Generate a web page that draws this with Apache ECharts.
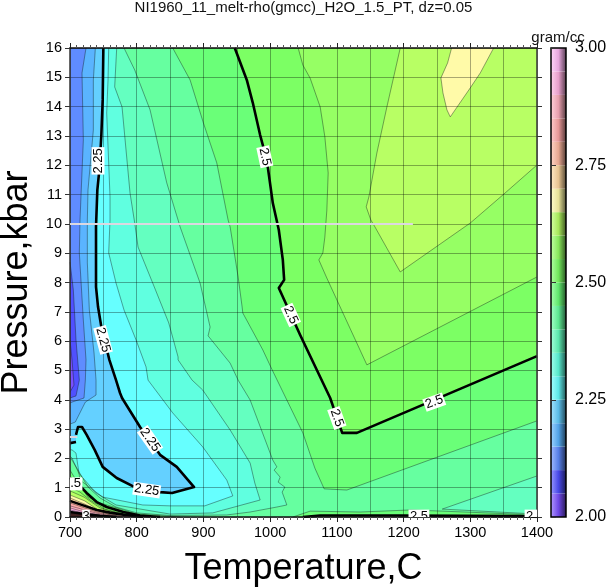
<!DOCTYPE html>
<html><head><meta charset="utf-8">
<style>html,body{margin:0;padding:0;background:#fff}#c{width:608px;height:587px}</style>
<script src="https://cdn.jsdelivr.net/npm/echarts@6/dist/echarts.min.js"></script>
</head><body><div id="c"></div>
<script>
// Contours: [temperature C, pressure kbar]
const c205=[[700,6.04],[703,5.36],[706,4.5],[700,4.26]];
const c210=[[700,8.7],[705,7.75],[709,6.04],[714,4.67],[709,4.13],[700,4.06]];
const c215=[[724,16],[718,15.15],[720,12.86],[715,10.13],[714,9.01],[720,6.72],[724,5.36],[723,4.67],[721,4.06],[703,3.92],[700,3.89]];
const c220=[[738,16],[735,14.91],[735,13.2],[727,11.16],[726,10.13],[726,8.67],[729,7.06],[736,5.6],[739,4.67],[739,4.16],[723,3.92],[708,3.24],[700,3.17]];
const c225=[[750,16],[749,14.23],[747,13.03],[744,11.84],[741,11.16],[739,9.9],[739,7.85],[742,7.17],[747,6.48],[759,5.36],[769,4.67],[775,4.23],[778,4.06],[805,3.07],[835,2.12],[860,1.71],[877,1.26],[886,1.02],[853,0.82],[835,0.85],[797,1.02],[770,1.33],[749,1.71],[737,2.29],[725,2.8],[718,3.07],[712,3.07],[709,2.8]];
const c225tail=[[709,2.56],[700,2.52]];
const c230=[[758,16],[757,14.91],[755,13.78],[760,10.92],[760,10.13],[758,9.01],[769,7.98],[781,7.06],[799,6.04],[814,5.12],[817,4.67],[854,3.55],[899,2.39],[935,1.26],[944,0.72],[902,0.38],[850,0.38],[809,0.41],[749,0.68],[715,1.26],[709,2.18],[703,2.29],[700,2.29]];
const c235=[[770,16],[767,14.67],[778,13.99],[790,11.05],[797,10.03],[802,9.21],[824,7.98],[848,6.62],[862,5.46],[862,5.36],[883,4.67],[899,4.33],[940,2.97],[970,1.84],[977,1.16],[985,0.58],[914,0.14],[850,0.1],[769,0.41],[739,0.82],[713,1.5],[703,2.01],[700,2.08]];
const c240=[[781,16],[797,15.25],[820,13.89],[845,11.4],[862,10.13],[865,9.9],[895,7.98],[910,6.48],[907,6.18],[940,5.25],[952,4.67],[970,3.99],[1004,1.94],[1010,1.71],[1006,1.6],[1015,1.36],[1012,1.19],[1022,1.02],[1018,0.85],[1025,0.41],[1010,0.34],[970,0.17],[935,0.07],[850,0.05],[800,0.14],[769,0.34],[745,0.65],[727,1.02],[712,1.6],[703,1.94],[700,2.01]];
const c240tongue=[[1400,0.1],[1258,0.27],[1400,1.4]];
const c245=[[854,16],[880,14.91],[900,13.44],[920,12.08],[937,10.13],[940,9.9],[952,8.19],[958,7.17],[959,6.96],[985,5.87],[989,5.7],[1003,5.02],[1049,2.87],[1067,1.67],[1081,0.96],[1115,0.92],[1400,3.28]];
const c245strip=[[1034,0],[1060,0.2],[1135,0.17],[1210,0.24],[1258,0.2],[1400,0.07]];
const c245wedge=[[700,1.6],[709,1.26],[727,0.68],[745,0.48],[770,0.31],[800,0.1],[835,0.05],[865,0]];
const c250=[[947,16],[965,14.91],[974,14.13],[985,13.03],[995,12.18],[1004,10.71],[1013,9.79],[1019,8.77],[1021,8.09],[1013,7.81],[1045,6.21],[1090,4.06],[1108,2.87],[1130,2.87],[1400,5.49]];
const c250strip=[[1049,0],[1075,0.05],[1195,0.05],[1375,0.03],[1400,0]];
const c250wedge=[[700,1.33],[712,1.13],[725,0.82],[740,0.51],[755,0.34],[780,0.17],[805,0.05],[835,0]];
const c255=[[1042,16],[1049,15.42],[1060,14.97],[1075,13.99],[1082,12.97],[1087,11.74],[1085,10.47],[1082,9.55],[1079,9.01],[1073,8.77],[1085,8.15],[1145,5.19],[1400,8.19]];
const c255wedge=[[700,1.02],[715,0.85],[730,0.58],[752,0.27],[782,0.1],[808,0]];
const c260=[[1195,16],[1175,13.99],[1160,12.42],[1148,10.92],[1144,10.58],[1151,10.13],[1157,9.9],[1195,8.36],[1300,10.03],[1349,10.99],[1400,12.01]];
const c260wedge=[[700,0.89],[721,0.68],[745,0.31],[775,0.1],[797,0]];
const c265=[[1272,16],[1266,15.49],[1256,14.98],[1259,14.47],[1265,13.89],[1270,13.65],[1300,14.64],[1315,15.15],[1335,16]];
const c265wedge=[[700,0.75],[722,0.55],[740,0.27],[767,0.07],[785,0]];
const c270wedge=[[700,0.65],[722,0.44],[740,0.24],[763,0.05],[778,0]];
const c275wedge=[[700,0.55],[722,0.38],[740,0.24],[760,0.15],[780,0.08],[810,0]];
const c280wedge=[[700,0.48],[722,0.31],[740,0.17],[755,0.1],[775,0.03],[790,0]];
const c285wedge=[[700,0.38],[722,0.24],[740,0.13],[760,0.05],[775,0]];
const c290wedge=[[700,0.31],[722,0.17],[738,0.1],[765,0]];
const c295wedge=[[700,0.24],[722,0.13],[745,0.05],[760,0]];
const c300wedge=[[700,0.17],[722,0.1],[745,0.04],[770,0]];
const dataGap=[[[700,10],[1214,10]],[[700,2.73],[711,2.73]]];
const labelTexts=['2.25','2.25','2.25','2.25','2.5','2.5','2.5','2.5','2.5','2.5','2.5','3'];
const labelPlaces=[[742,12.15],[749.5,6.04],[820,2.63],[815,0.92],[992,12.29],[1031,6.89],[1100,3.38],[1246,3.92],[1223,0.03],[1397,0.03],[703,1.13],[724,0.03]];
const labelAngles=[90,-75,-55,-8,-78,-65,-70,20,0,0,0,0];
const levels=[2,2.05,2.1,2.15,2.2,2.25,2.3,2.35,2.4,2.45,2.5,2.55,2.6,2.65,2.7,2.75,2.8,2.85,2.9,2.95];
const bandColors=['#7a50ff','#5050ff','#5f8cff','#5ab4ff','#64d0ff','#66ffff','#60ffe0','#64ffc0','#66ffa0','#6aff78','#7cff64','#96ff64','#b8ff64','#fffaa8','#ffd8a0','#ffb8a0','#ffa8a8','#ffb0c0','#ffb0e0','#ffb8f4'];
const beyondColor='#402020';
const xTicks=[700,1400], yTicks=[0,16], barTicks=[2,3];

const lb=[[700,0],[1400,0],[1400,16]], tr=[[1400,16]];
const layers=[
 {c:bandColors[0],p:[[700,0],[1400,0],[1400,16],[700,16]]},
 {c:bandColors[1],p:c205.concat(lb,[[700,16]])},
 {c:bandColors[2],p:c210.concat(lb,[[700,16]])},
 {c:bandColors[3],p:c215.concat(lb)},
 {c:bandColors[4],p:c220.concat(lb)},
 {c:bandColors[5],p:c225.concat(c225tail,lb)},
 {c:bandColors[6],p:c230.concat(lb)},
 {c:bandColors[7],p:c235.concat(lb)},
 {c:bandColors[8],p:c240.concat([[700,0],[1400,0]],c240tongue,tr)},
 {c:bandColors[9],p:c245.concat(tr)},
 {c:bandColors[9],p:c245strip.concat([[1400,0]])},
 {c:bandColors[9],p:c245wedge.concat([[700,0]])},
 {c:bandColors[10],p:c250.concat(tr)},
 {c:bandColors[10],p:c250strip},
 {c:bandColors[10],p:c250wedge.concat([[700,0]])},
 {c:bandColors[11],p:c255.concat(tr)},
 {c:bandColors[11],p:c255wedge.concat([[700,0]])},
 {c:bandColors[12],p:c260.concat(tr)},
 {c:bandColors[12],p:c260wedge.concat([[700,0]])},
 {c:bandColors[13],p:c265},
 {c:bandColors[13],p:c265wedge.concat([[700,0]])},
 {c:bandColors[14],p:c270wedge.concat([[700,0]])},
 {c:bandColors[15],p:c275wedge.concat([[700,0]])},
 {c:bandColors[16],p:c280wedge.concat([[700,0]])},
 {c:bandColors[17],p:c285wedge.concat([[700,0]])},
 {c:bandColors[18],p:c290wedge.concat([[700,0]])},
 {c:bandColors[19],p:c295wedge.concat([[700,0]])},
 {c:beyondColor,p:c300wedge.concat([[700,0]])}
];
const thin=[c205,c210,c215,c220,c230,c235,c240,c240tongue,c245,c245strip,c245wedge,c255,c255wedge,c260,c260wedge,c265,c265wedge,c270wedge,c280wedge,c285wedge,c290wedge,c295wedge];
const thick=[c225,c225tail,c250,c250strip,c250wedge,c275wedge,c300wedge];

function mix(hex,t,a){const n=parseInt(hex.slice(1),16);const r=n>>16,g=n>>8&255,b=n&255;
 const f=v=>Math.round(v+(t-v)*a);return 'rgb('+f(r)+','+f(g)+','+f(b)+')';}

const FONT='"Liberation Sans",Arial,sans-serif';
const lineSeries=(arr,w,col)=>arr.map(d=>({type:'line',data:d,xAxisIndex:0,yAxisIndex:0,showSymbol:false,symbol:'none',silent:true,
  lineStyle:{width:w,color:col,join:'round'},z:2,animation:false}));

const option={
 animation:false,
 textStyle:{fontFamily:FONT},
 title:[{text:'NI1960_11_melt-rho(gmcc)_H2O_1.5_PT, dz=0.05',left:303.5,top:0,padding:0,textAlign:'center',
   textStyle:{fontSize:15,fontWeight:'normal',color:'#111',fontFamily:FONT}},
  {text:'gram/cc',left:558,top:30,padding:0,textAlign:'center',textStyle:{fontSize:15,fontWeight:'normal',color:'#111',fontFamily:FONT}}],
 grid:[{left:70,top:48,width:467,height:469,outerBoundsMode:'none',containLabel:false},{left:551,top:48,width:15,height:469,outerBoundsMode:'none',containLabel:false}],
 xAxis:[
  {type:'value',gridIndex:0,position:'bottom',min:xTicks[0],max:xTicks[1],interval:100,z:3,
   name:'Temperature,C',nameLocation:'middle',nameGap:34,nameTextStyle:{fontSize:36,color:'#000',fontFamily:FONT},
   axisLine:{show:true,onZero:false,lineStyle:{color:'#111',width:1.5}},
   axisTick:{show:true,length:5,lineStyle:{color:'#222',width:1}},
   minorTick:{show:true,splitNumber:10,length:3,lineStyle:{color:'#555',width:1}},
   axisLabel:{fontSize:14.5,color:'#000',margin:8,fontFamily:FONT,formatter:v=>String(v)},splitLine:{show:false}},
  {type:'value',gridIndex:0,position:'top',min:xTicks[0],max:xTicks[1],interval:100,z:3,
   axisLine:{show:true,onZero:false,lineStyle:{color:'#111',width:1.5}},
   axisTick:{show:true,length:5,lineStyle:{color:'#222',width:1}},
   minorTick:{show:true,splitNumber:10,length:3,lineStyle:{color:'#555',width:1}},
   axisLabel:{show:false},splitLine:{show:false}},
  {type:'value',gridIndex:0,position:'bottom',min:xTicks[0],max:xTicks[1],interval:50,z:3,
   axisLine:{show:false},axisTick:{show:false},axisLabel:{show:false},
   splitLine:{show:true,lineStyle:{color:'rgba(0,0,0,0.42)',width:0.8}}},
  {type:'value',gridIndex:1,min:0,max:1,show:false}
 ],
 yAxis:[
  {type:'value',gridIndex:0,position:'left',min:yTicks[0],max:yTicks[1],interval:1,z:3,
   name:'Pressure,kbar',nameLocation:'middle',nameGap:21,nameRotate:90,nameTextStyle:{fontSize:36,color:'#000',fontFamily:FONT},
   axisLine:{show:true,onZero:false,lineStyle:{color:'#333',width:1.5}},
   axisTick:{show:true,length:5,lineStyle:{color:'#333',width:1}},
   axisLabel:{fontSize:14.5,color:'#000',margin:8,fontFamily:FONT},
   splitLine:{show:true,lineStyle:{color:'rgba(0,0,0,0.42)',width:0.8}}},
  {type:'value',gridIndex:0,position:'right',min:yTicks[0],max:yTicks[1],interval:1,z:3,
   axisLine:{show:true,onZero:false,lineStyle:{color:'#333',width:1.5}},
   axisTick:{show:true,length:5,lineStyle:{color:'#333',width:1}},
   axisLabel:{show:false},splitLine:{show:false}},
  {type:'value',gridIndex:1,position:'right',min:barTicks[0],max:barTicks[1],interval:0.25,z:5,
   axisLine:{show:false},axisTick:{show:true,length:5,lineStyle:{color:'#333',width:1}},
   axisLabel:{fontSize:16,color:'#000',margin:9,fontFamily:FONT,formatter:v=>v.toFixed(2)},splitLine:{show:false}}
 ],
 series:[
  {type:'custom',xAxisIndex:0,yAxisIndex:0,z:1,silent:true,clip:true,animation:false,
   data:layers.map((l,i)=>[700,0,i]),
   renderItem:(p,api)=>{const l=layers[api.value(2)];
     return {type:'polygon',shape:{points:l.p.map(q=>api.coord(q))},style:{fill:l.c}};}},
  ...lineSeries(thin,0.6,'rgba(20,30,30,0.7)'),
  ...lineSeries(thick,2.6,'#000'),
  ...dataGap.map(d=>({type:'line',data:d,xAxisIndex:0,yAxisIndex:0,showSymbol:false,symbol:'none',silent:true,
    lineStyle:{width:2,color:'#dcd8e0'},z:4,animation:false})),
  {type:'custom',xAxisIndex:0,yAxisIndex:0,z:5,silent:true,clip:true,animation:false,
   data:labelPlaces.map((q,i)=>[q[0],q[1],i]),
   renderItem:(p,api)=>{const i=api.value(2),pt=api.coord([api.value(0),api.value(1)]);
     const t=labelTexts[i],w=t.length*6.6+1,r=labelAngles[i]*Math.PI/180;
     return {type:'group',x:pt[0],y:pt[1],rotation:r,children:[
       {type:'rect',shape:{x:-w/2,y:-6.5,width:w,height:13},style:{fill:'#fff'}},
       {type:'text',style:{x:0,y:0,text:t,fontSize:13,fontFamily:FONT,fill:'#000',align:'center',verticalAlign:'middle'}}
     ]};}},
  {type:'custom',xAxisIndex:3,yAxisIndex:2,z:3,silent:true,animation:false,
   data:levels.map((v,i)=>[0,v,i]),
   renderItem:(p,api)=>{const i=api.value(2),a=api.coord([0,levels[i]]),b=api.coord([1,levels[i]+0.05]);
     const c=bandColors[i];
     return {type:'rect',shape:{x:a[0],y:b[1],width:b[0]-a[0],height:a[1]-b[1]},
       style:{fill:{type:'linear',x:0,y:0,x2:1,y2:0,colorStops:[{offset:0,color:mix(c,255,0.4)},{offset:0.5,color:mix(c,0,0.1)},{offset:1,color:mix(c,0,0.65)}]}}};}},
  {type:'custom',xAxisIndex:3,yAxisIndex:2,z:4,silent:true,animation:false,
   data:[[0,2]],
   renderItem:(p,api)=>{const a=api.coord([0,2]),b=api.coord([1,3]);
     return {type:'rect',shape:{x:a[0],y:b[1],width:b[0]-a[0],height:a[1]-b[1]},style:{fill:'none',stroke:'#000',lineWidth:1.5}};}}
 ]
};
echarts.init(document.getElementById('c'),null,{renderer:'canvas'}).setOption(option);
</script></body></html>
